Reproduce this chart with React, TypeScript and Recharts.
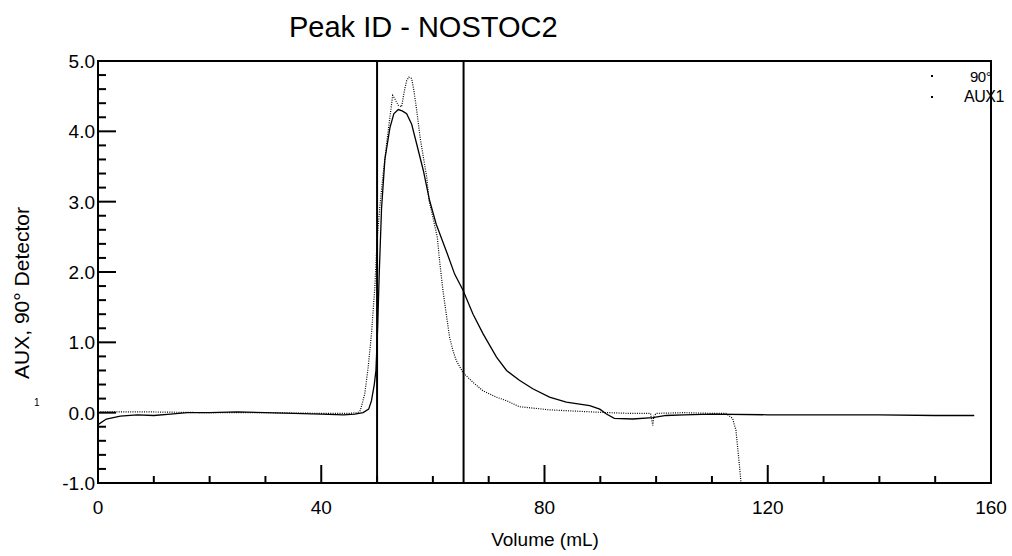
import React from "react";
import {
  LineChart,
  Line,
  XAxis,
  YAxis,
  ReferenceLine,
  ReferenceArea,
} from "recharts";

const FONT = "'Liberation Sans', Arial, sans-serif";

// AUX1 trace (solid, smooth, long tail)
const auxX = [
  0, 1.5, 4, 7, 10, 13, 16, 20, 25, 30, 35, 40, 44, 46, 47.5, 48.5, 49, 49.5,
  49.8, 50.1, 50.4, 50.8, 51.4, 52.3, 53, 53.8, 54.5, 55.3, 56.2, 57.1, 58.3,
  59.4, 60.6, 62.4, 63.9, 65.4, 67.2, 69, 71.4, 73.2, 75.5, 77.9, 80.9, 83.9,
  88.1, 89.9, 91.1, 92.5, 95.8, 99.4, 101.8, 105, 110, 120, 130, 140, 150, 157,
];
const auxY = [
  -0.17, -0.09, -0.05, -0.03, -0.04, -0.02, 0.0, 0.0, 0.01, 0.0, -0.01, -0.02,
  -0.03, -0.02, 0.0, 0.05, 0.17, 0.4, 0.6, 1.2, 2.0, 2.9, 3.6, 4.05, 4.25,
  4.31, 4.29, 4.25, 4.1, 3.82, 3.44, 3.02, 2.68, 2.3, 1.97, 1.74, 1.4, 1.12,
  0.79, 0.6, 0.46, 0.34, 0.22, 0.15, 0.1, 0.05, -0.02, -0.08, -0.09, -0.07,
  -0.04, -0.03, -0.02, -0.03, -0.03, -0.03, -0.04, -0.04,
];

// 90° detector trace (dotted, double peak, drops out near 115 mL)
const lsX = [
  0, 10, 20, 30, 40, 45, 46.5, 47, 47.8, 48.4, 49, 49.6, 50, 50.5, 51.1, 51.7,
  52.3, 52.8, 53.2, 53.8, 54.4, 54.9, 55.3, 55.7, 56.2, 56.6, 57.1, 57.7,
  58.3, 58.9, 59.3, 60, 60.8, 61.2, 61.8, 62.4, 63, 63.6, 64.2, 65.4, 67.2,
  69, 71.4, 73.2, 75.5, 80.9, 89.9, 95, 99, 99.4, 99.6, 100, 105, 110, 112.5,
  113.7, 114.3, 114.6, 114.9, 115.2,
];
const lsY = [
  0.01, 0.01, 0.0, 0.0, -0.01, -0.01, 0.0, 0.03, 0.27, 0.64, 1.12, 1.78, 2.45,
  2.93, 3.4, 3.82, 4.2, 4.51, 4.46, 4.37, 4.35, 4.58, 4.72, 4.77, 4.75, 4.58,
  4.3, 3.92, 3.63, 3.35, 3.02, 2.78, 2.49, 2.16, 1.74, 1.4, 1.07, 0.88, 0.74,
  0.57, 0.43, 0.31, 0.22, 0.17, 0.085, 0.04, 0.005, -0.01, -0.01, -0.18,
  -0.05, -0.01, 0.0, -0.01, -0.01, -0.08, -0.25, -0.49, -0.73, -0.99,
];

const peakStart = 50;
const peakEnd = 65.5;

const xTicks = [0, 10, 20, 30, 40, 50, 60, 70, 80, 90, 100, 110, 120, 130, 140, 150, 160];
const yTicks = [
  -1, -0.8, -0.6, -0.4, -0.2, 0, 0.2, 0.4, 0.6, 0.8, 1, 1.2, 1.4, 1.6, 1.8, 2,
  2.2, 2.4, 2.6, 2.8, 3, 3.2, 3.4, 3.6, 3.8, 4, 4.2, 4.4, 4.6, 4.8, 5,
];

const auxData = auxX.map((x, i) => ({ x, y: auxY[i] }));
const lsData = lsX.map((x, i) => ({ x, y: lsY[i] }));

function XTick({ x, y, payload }: any) {
  const v = payload.value;
  const major = v % 40 === 0;
  return (
    <g>
      <line x1={x} x2={x} y1={y} y2={y - (major ? 18 : 7)} stroke="#000" strokeWidth={2} />
      {major && (
        <text x={x} y={y + 31} textAnchor="middle" fontSize={19} fontFamily={FONT} fill="#000">
          {v}
        </text>
      )}
    </g>
  );
}

function YTick({ x, y, payload }: any) {
  const v = payload.value;
  const major = Math.abs(v - Math.round(v)) < 1e-6;
  return (
    <g>
      <line x1={x} x2={x + (major ? 18 : 8)} y1={y} y2={y} stroke="#000" strokeWidth={2} />
      {major && (
        <text x={x - 3} y={y + 7} textAnchor="end" fontSize={19} fontFamily={FONT} fill="#000">
          {v.toFixed(1)}
        </text>
      )}
    </g>
  );
}

export default function App() {
  return (
    <div
      style={{
        position: "fixed",
        left: 0,
        top: 0,
        width: 1012,
        height: 556,
        background: "#fff",
        fontFamily: FONT,
        color: "#000",
      }}
    >
      <LineChart
        width={1012}
        height={556}
        margin={{ top: 61, right: 21, bottom: 23, left: 38 }}
      >
        <XAxis
          type="number"
          dataKey="x"
          domain={[0, 160]}
          ticks={xTicks}
          interval={0}
          tickSize={0}
          tickMargin={0}
          tickLine={false}
          axisLine={{ stroke: "#000", strokeWidth: 2 }}
          tick={<XTick />}
          height={50}
        />
        <YAxis
          type="number"
          dataKey="y"
          domain={[-1, 5]}
          ticks={yTicks}
          interval={0}
          tickSize={0}
          tickMargin={0}
          tickLine={false}
          axisLine={{ stroke: "#000", strokeWidth: 2 }}
          tick={<YTick />}
          width={60}
        />
        <ReferenceArea x1={0} x2={160} y1={-1} y2={5} fill="none" stroke="#000" strokeWidth={2} />
        <ReferenceLine x={peakStart} stroke="#000" strokeWidth={2} />
        <ReferenceLine x={peakEnd} stroke="#000" strokeWidth={2} />
        <Line
          data={lsData}
          dataKey="y"
          type="linear"
          stroke="#000"
          strokeWidth={1.2}
          strokeDasharray="1 1.3"
          dot={false}
          isAnimationActive={false}
        />
        <Line
          data={auxData}
          dataKey="y"
          type="linear"
          stroke="#000"
          strokeWidth={1.3}
          dot={false}
          isAnimationActive={false}
        />
      </LineChart>

      <div style={{ position: "absolute", left: 289, top: 11, fontSize: 29, whiteSpace: "nowrap" }}>
        Peak ID - NOSTOC2
      </div>
      <div
        style={{
          position: "absolute",
          left: 22,
          top: 293,
          fontSize: 21,
          whiteSpace: "nowrap",
          transform: "translate(-50%, -50%) rotate(-90deg)",
        }}
      >
        AUX, 90° Detector
      </div>
      <div style={{ position: "absolute", left: 34, top: 397, fontSize: 10 }}>1</div>
      <div
        style={{
          position: "absolute",
          left: 545,
          top: 529,
          fontSize: 19,
          whiteSpace: "nowrap",
          transform: "translateX(-50%)",
        }}
      >
        Volume (mL)
      </div>
      <div style={{ position: "absolute", left: 931, top: 75, width: 2, height: 2, background: "#000" }} />
      <div style={{ position: "absolute", left: 970, top: 68, fontSize: 15, letterSpacing: -0.5 }}>90°</div>
      <div style={{ position: "absolute", left: 931, top: 96, width: 2, height: 2, background: "#000" }} />
      <div style={{ position: "absolute", left: 964, top: 88, fontSize: 16, letterSpacing: -0.5 }}>AUX1</div>
    </div>
  );
}
